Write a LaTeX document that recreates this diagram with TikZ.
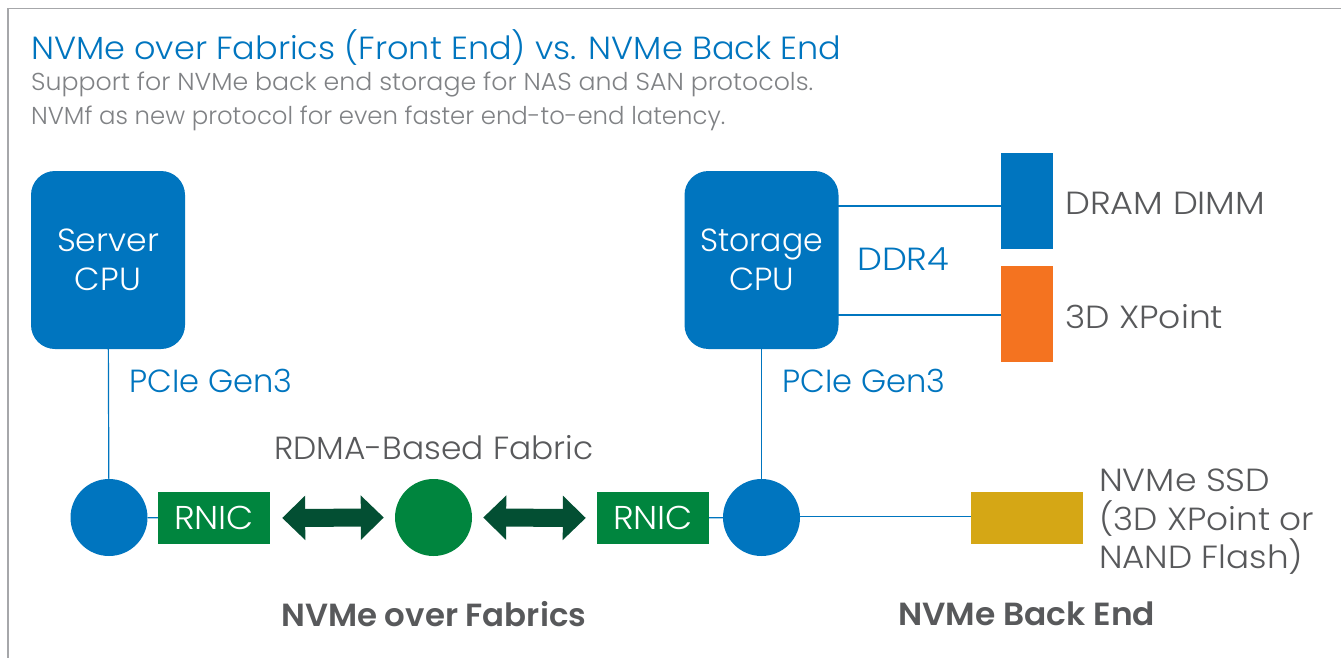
\documentclass[tikz,border=0pt]{standalone}
\usepackage{fontspec}
\setmainfont{Poppins}[UprightFont=* Light,BoldFont=* SemiBold]
\usetikzlibrary{arrows.meta}
\newcommand\fitw[2]{\resizebox{#1pt}{\height}{#2}}
\definecolor{vblue}{HTML}{0075BF}
\definecolor{vgreen}{HTML}{00853E}
\definecolor{dgreen}{HTML}{034F33}
\definecolor{vorange}{HTML}{F47320}
\definecolor{vgold}{HTML}{D5A715}
\definecolor{vgrey}{HTML}{58595B}
\definecolor{lgrey}{HTML}{808285}
\tikzset{x=1pt,y=-1pt,
 cpu/.style={fill=vblue,rounded corners=24pt,minimum width=154pt,minimum height=178pt,text=white,font=\fontsize{32}{39}\selectfont,align=center,inner sep=0pt},
 dot/.style={circle,fill=vblue,minimum size=77pt,inner sep=0pt},
 rnic/.style={fill=vgreen,minimum width=112pt,minimum height=52pt,text=white,font=\fontsize{33}{36}\selectfont,inner sep=0pt},
 mem/.style={minimum width=52pt,minimum height=96pt,inner sep=0pt},
 wire/.style={draw=vblue,line width=1.2pt},
 lab/.style={anchor=west,inner sep=0pt,font=\fontsize{32}{36}\selectfont},
 biglab/.style={lab,text=vgrey},
 bluelab/.style={lab,text=vblue},
 dbl/.style={draw=dgreen,line width=18pt,{Triangle[length=23pt,width=43pt]}-{Triangle[length=23pt,width=43pt]}}
}
\begin{document}
\begin{tikzpicture}
\useasboundingbox (0,0) rectangle (1341,658);
\fill[white] (0,0) rectangle (1341,658);
\draw[draw=lgrey!70,line width=1.3pt] (8,658) -- (8,8.5) -- (1341,8.5);
\node[lab,text=vblue] (title) at (31,48) {\fitw{810}{NVMe over Fabrics (Front End) vs. NVMe Back End}};
\node[lab,text=lgrey,font=\fontsize{24.5}{30}\selectfont] (s1) at (31,85) {\fitw{782}{Support for NVMe back end storage for NAS and SAN protocols.}};
\node[lab,text=lgrey,font=\fontsize{24.5}{30}\selectfont] (s2) at (31,118) {\fitw{694}{NVMf as new protocol for even faster end-to-end latency.}};
\node[cpu] (server) at (108,260) {\fitw{102}{Server}\\\fitw{66}{CPU}};
\node[cpu] (storage) at (761.5,260) {\fitw{123}{Storage}\\\fitw{65}{CPU}};
\node[dot] (d1) at (109,517.5) {};
\node[dot] (d2) at (761.5,517.5) {};
\node[circle,fill=vgreen,minimum size=77pt,inner sep=0pt] (g) at (433.5,517.5) {};
\node[rnic] (r1) at (214,518) {\raisebox{-1pt}{\fitw{80}{RNIC}}};
\node[rnic] (r2) at (653,518) {\raisebox{-1pt}{\fitw{80}{RNIC}}};
\node[mem,fill=vblue] (dram) at (1027,201) {};
\node[mem,fill=vorange] (xp) at (1027,314) {};
\node[fill=vgold,minimum width=112pt,minimum height=52pt,inner sep=0pt] (ssd) at (1027,518) {};
\draw[wire] (server) -- (d1);
\draw[wire] (storage) -- (d2);
\draw[wire] (d1) -- (r1);
\draw[wire] (r2) -- (d2);
\coordinate (c) at (790,516.5);
\draw[wire] (c) -- (ssd.west |- c);
\coordinate (a) at (838,206);
\coordinate (b) at (838,315);
\draw[wire] (a) -- (dram.west |- a);
\draw[wire] (b) -- (xp.west |- b);
\draw[dbl,shorten <=12pt,shorten >=11pt] (r1.east) -- (g.west);
\draw[dbl,shorten <=11pt,shorten >=11pt] (g.east) -- (r2.west);
\node[bluelab] (pc1) at (129,381) {\fitw{163}{PCIe Gen3}};
\node[bluelab] (pc2) at (782,381) {\fitw{163}{PCIe Gen3}};
\node[bluelab] (ddr) at (857,259) {\fitw{92}{DDR4}};
\node[biglab] (rd) at (274,448) {\fitw{319}{RDMA-Based Fabric}};
\node[biglab] (dl) at (1065,203) {\fitw{200}{DRAM DIMM}};
\node[biglab] (xl) at (1065,317) {\fitw{158}{3D XPoint}};
\node[biglab] (n1) at (1099,480) {\fitw{171}{NVMe SSD}};
\node[biglab] (n2) at (1099,519) {\fitw{215}{(3D XPoint or}};
\node[biglab] (n3) at (1099,557) {\fitw{204}{NAND Flash)}};
\node[biglab,font=\fontsize{32}{36}\selectfont\bfseries] (f1) at (281,614) {\fitw{305}{NVMe over Fabrics}};
\node[biglab,font=\fontsize{32}{36}\selectfont\bfseries] (f2) at (898,614) {\fitw{257}{NVMe Back End}};
\end{tikzpicture}
\end{document}
